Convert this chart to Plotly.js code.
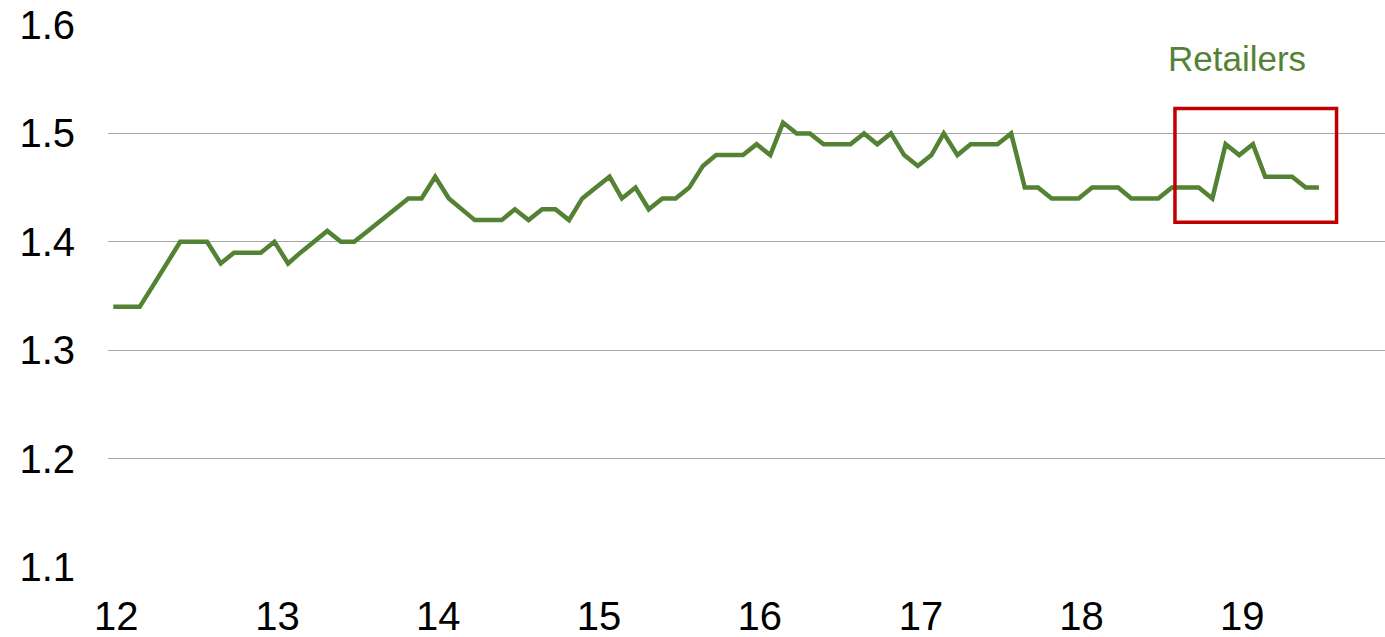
<!DOCTYPE html>
<html>
<head>
<meta charset="utf-8">
<script src="https://cdn.plot.ly/plotly-3.0.1.min.js"></script>
<style>
html,body{margin:0;padding:0;background:#fff;}
#chart{width:1385px;height:637px;}
</style>
</head>
<body>
<div id="chart"></div>
<script>
// Monthly series, Jan 2012 .. Jul 2019
var startYear = 2012;
var startMonth = 1;
var retailers = [
  1.34,1.34,1.34,1.36,1.38,1.40,1.40,1.40,1.38,1.39,1.39,1.39,
  1.40,1.38,1.39,1.40,1.41,1.40,1.40,1.41,1.42,1.43,1.44,1.44,
  1.46,1.44,1.43,1.42,1.42,1.42,1.43,1.42,1.43,1.43,1.42,1.44,
  1.45,1.46,1.44,1.45,1.43,1.44,1.44,1.45,1.47,1.48,1.48,1.48,
  1.49,1.48,1.51,1.50,1.50,1.49,1.49,1.49,1.50,1.49,1.50,1.48,
  1.47,1.48,1.50,1.48,1.49,1.49,1.49,1.50,1.45,1.45,1.44,1.44,
  1.44,1.45,1.45,1.45,1.44,1.44,1.44,1.45,1.45,1.45,1.44,1.49,
  1.48,1.49,1.46,1.46,1.46,1.45,1.45
];
var tickYears = [2012,2013,2014,2015,2016,2017,2018,2019];
var tickLabels = ["12","13","14","15","16","17","18","19"];
var yTicks = [1.1,1.2,1.3,1.4,1.5,1.6];
var yTickLabels = ["1.1","1.2","1.3","1.4","1.5","1.6"];
var seriesName = "Retailers";

function pad(n){return (n<10?"0":"")+n;}
var dates = retailers.map(function(_, i){
  var m = startMonth - 1 + i;
  var y = startYear + Math.floor(m/12);
  return y + "-" + pad(m%12 + 1) + "-01";
});
var tickVals = tickYears.map(function(y){return y + "-01-08";});

var green = "#548235";
var trace = {
  x: dates, y: retailers, type: "scatter", mode: "lines",
  line: {color: green, width: 4.5, shape: "linear"},
  hoverinfo: "x+y", showlegend: false
};

var layout = {
  width: 1385, height: 637,
  margin: {l: 108, r: 0, t: 25, b: 70},
  paper_bgcolor: "#fff", plot_bgcolor: "#fff",
  font: {family: "Liberation Sans, Arial, sans-serif", color: "#000", size: 40},
  xaxis: {
    type: "date",
    range: ["2011-12-20", "2019-11-28"],
    tickmode: "array", tickvals: tickVals, ticktext: tickLabels,
    showgrid: false, zeroline: false, showline: false, ticks: "",
    tickfont: {size: 40, color: "#000"},
    ticklabelstandoff: 22
  },
  yaxis: {
    range: [1.1, 1.6],
    tickmode: "array", tickvals: yTicks, ticktext: yTickLabels,
    showgrid: true, gridcolor: "#a6a6a6", gridwidth: 1,
    zeroline: false, showline: false, ticks: "",
    tickfont: {size: 40, color: "#000"},
    ticklabelstandoff: 32
  },
  shapes: [{
    type: "rect", xref: "x", yref: "y",
    x0: "2018-08-08", x1: "2019-08-10", y0: 1.418, y1: 1.523,
    line: {color: "#c00000", width: 3.5}, fillcolor: "rgba(0,0,0,0)"
  }],
  annotations: [{
    x: "2018-12-28", y: 1.569, xref: "x", yref: "y",
    text: seriesName, showarrow: false,
    font: {size: 35, color: green, family: "Liberation Sans, Arial, sans-serif"},
    xanchor: "center", yanchor: "middle"
  }]
};

Plotly.newPlot("chart", [trace], layout, {displayModeBar: false, staticPlot: true});
</script>
</body>
</html>
